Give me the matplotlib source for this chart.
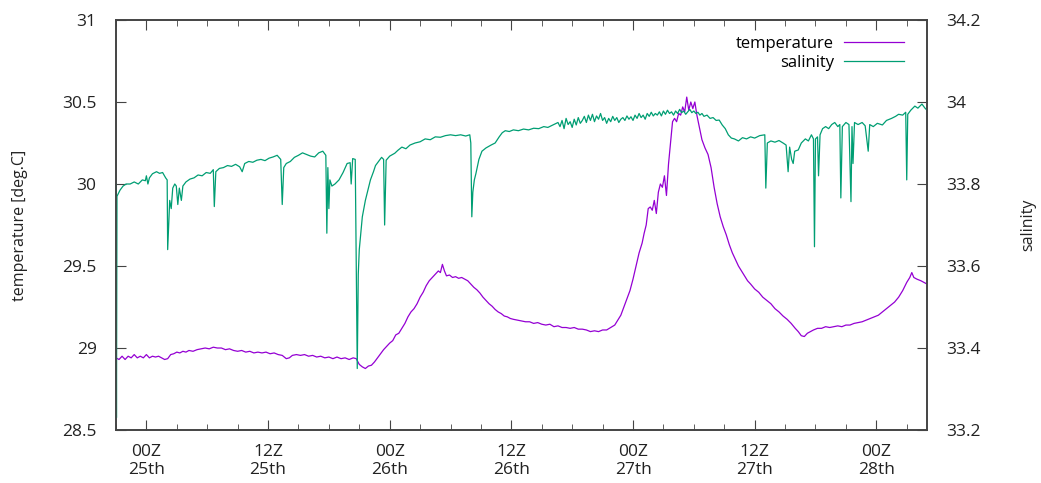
import matplotlib
matplotlib.use("Agg")
import matplotlib.pyplot as plt
from matplotlib.ticker import MultipleLocator, FixedLocator, FixedFormatter

# (hours since 00Z on the 25th, value)
temp_points = [
    (-3, 28.94), (-2.7, 28.93), (-2.4, 28.95), (-2.1, 28.93), (-1.8, 28.95), (-1.5, 28.94),
    (-1.2, 28.96), (-0.9, 28.94), (-0.6, 28.95), (-0.3, 28.94), (0, 28.96), (0.3, 28.94),
    (0.6, 28.95), (0.9, 28.945), (1.2, 28.95), (1.5, 28.94), (1.8, 28.93), (2.1, 28.935),
    (2.4, 28.96), (2.7, 28.965), (3.0, 28.975), (3.3, 28.97), (3.6, 28.98), (3.9, 28.975),
    (4.2, 28.985), (4.6, 28.98), (5.0, 28.99), (5.4, 28.995), (5.8, 29.0), (6.2, 28.995),
    (6.6, 29.005), (7.0, 29.0), (7.4, 29.0), (7.8, 28.99), (8.2, 28.995), (8.6, 28.985),
    (9.0, 28.98), (9.4, 28.985), (9.8, 28.975), (10.2, 28.98), (10.6, 28.97), (11.0, 28.975),
    (11.4, 28.97), (11.8, 28.975), (12.2, 28.965), (12.6, 28.97), (13.0, 28.96),
    (13.4, 28.955), (13.8, 28.935), (14.1, 28.94), (14.4, 28.955), (14.8, 28.96),
    (15.2, 28.955), (15.6, 28.96), (16.0, 28.95), (16.4, 28.955), (16.8, 28.945),
    (17.2, 28.95), (17.6, 28.94), (18.0, 28.945), (18.4, 28.935), (18.8, 28.945),
    (19.2, 28.935), (19.6, 28.94), (20.0, 28.93), (20.4, 28.94), (20.7, 28.935),
    (21.0, 28.9), (21.3, 28.885), (21.6, 28.875), (21.9, 28.89), (22.2, 28.895),
    (22.5, 28.915), (22.8, 28.94), (23.1, 28.965), (23.4, 28.99), (23.7, 29.01),
    (24.0, 29.03), (24.3, 29.045), (24.6, 29.08), (24.9, 29.09), (25.2, 29.12),
    (25.5, 29.15), (25.8, 29.19), (26.1, 29.22), (26.4, 29.24), (26.7, 29.27), (27.0, 29.31),
    (27.3, 29.34), (27.6, 29.38), (27.9, 29.41), (28.2, 29.43), (28.5, 29.45), (28.8, 29.47),
    (29.0, 29.46), (29.2, 29.51), (29.4, 29.47), (29.6, 29.44), (29.9, 29.445),
    (30.2, 29.43), (30.5, 29.435), (30.8, 29.425), (31.1, 29.43), (31.4, 29.42),
    (31.7, 29.41), (32.0, 29.39), (32.3, 29.37), (32.6, 29.355), (32.9, 29.335),
    (33.2, 29.31), (33.5, 29.29), (33.8, 29.27), (34.1, 29.255), (34.4, 29.235),
    (34.7, 29.22), (35.0, 29.21), (35.3, 29.195), (35.6, 29.19), (35.9, 29.18),
    (36.2, 29.175), (36.6, 29.17), (37.0, 29.165), (37.4, 29.16), (37.8, 29.16),
    (38.2, 29.15), (38.6, 29.155), (39.0, 29.145), (39.4, 29.14), (39.8, 29.145),
    (40.2, 29.13), (40.6, 29.135), (41.0, 29.125), (41.4, 29.125), (41.8, 29.12),
    (42.2, 29.125), (42.6, 29.115), (43.0, 29.115), (43.4, 29.11), (43.8, 29.1),
    (44.2, 29.105), (44.6, 29.1), (45.0, 29.11), (45.4, 29.11), (45.8, 29.125),
    (46.2, 29.14), (46.5, 29.17), (46.8, 29.2), (47.1, 29.25), (47.4, 29.3), (47.7, 29.35),
    (48.0, 29.42), (48.3, 29.5), (48.6, 29.58), (48.9, 29.64), (49.1, 29.7), (49.3, 29.75),
    (49.5, 29.85), (49.7, 29.86), (49.9, 29.84), (50.1, 29.9), (50.3, 29.82), (50.5, 29.95),
    (50.7, 30.0), (50.9, 29.98), (51.1, 30.05), (51.3, 29.93), (51.5, 30.12), (51.7, 30.25),
    (51.9, 30.38), (52.1, 30.4), (52.3, 30.38), (52.5, 30.43), (52.7, 30.42), (52.9, 30.47),
    (53.1, 30.44), (53.3, 30.53), (53.5, 30.45), (53.7, 30.5), (53.9, 30.46), (54.1, 30.5),
    (54.3, 30.42), (54.5, 30.36), (54.8, 30.27), (55.1, 30.22), (55.4, 30.18), (55.7, 30.1),
    (56.0, 29.98), (56.3, 29.88), (56.6, 29.8), (56.9, 29.74), (57.2, 29.69), (57.5, 29.63),
    (57.8, 29.58), (58.1, 29.54), (58.4, 29.5), (58.7, 29.47), (59.0, 29.44), (59.3, 29.41),
    (59.6, 29.39), (60.0, 29.36), (60.4, 29.34), (60.8, 29.31), (61.2, 29.29), (61.6, 29.27),
    (62.0, 29.24), (62.4, 29.22), (62.8, 29.195), (63.2, 29.175), (63.6, 29.15),
    (64.0, 29.12), (64.3, 29.1), (64.6, 29.075), (64.9, 29.07), (65.2, 29.09), (65.5, 29.1),
    (65.8, 29.11), (66.2, 29.12), (66.6, 29.12), (67.0, 29.13), (67.4, 29.125),
    (67.8, 29.13), (68.2, 29.135), (68.6, 29.13), (69.0, 29.14), (69.4, 29.14),
    (69.8, 29.15), (70.2, 29.155), (70.6, 29.16), (71.0, 29.17), (71.4, 29.18),
    (71.8, 29.19), (72.2, 29.2), (72.6, 29.22), (73.0, 29.24), (73.4, 29.26), (73.8, 29.28),
    (74.2, 29.31), (74.6, 29.35), (75.0, 29.4), (75.3, 29.43), (75.5, 29.46), (75.7, 29.43),
    (76.0, 29.42), (76.4, 29.41), (76.7, 29.4), (77.0, 29.39),
]

sal_points = [
    (-3.0, 33.80), (-2.95, 33.23), (-2.9, 33.77), (-2.6, 33.785), (-2.3, 33.795),
    (-2.0, 33.80), (-1.6, 33.80), (-1.2, 33.805), (-0.8, 33.80), (-0.4, 33.81),
    (-0.1, 33.808), (0, 33.82), (0.15, 33.80), (0.3, 33.815), (0.6, 33.825), (1.0, 33.83),
    (1.3, 33.826), (1.6, 33.828), (1.9, 33.815), (2.05, 33.81), (2.1, 33.64), (2.2, 33.70),
    (2.3, 33.76), (2.45, 33.74), (2.6, 33.79), (2.8, 33.80), (2.95, 33.795), (3.1, 33.75),
    (3.25, 33.79), (3.45, 33.76), (3.6, 33.795), (3.9, 33.805), (4.3, 33.812),
    (4.7, 33.815), (5.1, 33.822), (5.5, 33.82), (5.9, 33.828), (6.3, 33.826), (6.6, 33.835),
    (6.7, 33.745), (6.85, 33.83), (7.2, 33.838), (7.6, 33.84), (8.0, 33.845), (8.4, 33.843),
    (8.8, 33.848), (9.2, 33.842), (9.45, 33.83), (9.7, 33.85), (10.1, 33.855),
    (10.5, 33.853), (10.9, 33.858), (11.3, 33.86), (11.7, 33.857), (12.1, 33.863),
    (12.5, 33.866), (12.9, 33.87), (13.25, 33.86), (13.4, 33.75), (13.55, 33.84),
    (13.8, 33.85), (14.2, 33.855), (14.6, 33.865), (15.0, 33.87), (15.4, 33.876),
    (15.8, 33.872), (16.2, 33.868), (16.6, 33.866), (17.0, 33.876), (17.4, 33.88),
    (17.7, 33.87), (17.8, 33.68), (17.9, 33.84), (18.0, 33.74), (18.1, 33.81),
    (18.3, 33.795), (18.6, 33.80), (19.0, 33.81), (19.4, 33.828), (19.8, 33.85),
    (20.1, 33.852), (20.2, 33.80), (20.35, 33.862), (20.6, 33.86), (20.8, 33.35),
    (20.9, 33.58), (21.0, 33.64), (21.3, 33.72), (21.6, 33.76), (21.9, 33.79), (22.1, 33.81),
    (22.4, 33.83), (22.6, 33.845), (22.9, 33.855), (23.2, 33.865), (23.4, 33.86),
    (23.5, 33.70), (23.65, 33.858), (24.0, 33.868), (24.5, 33.875), (24.8, 33.882),
    (25.2, 33.89), (25.6, 33.886), (26.0, 33.895), (26.5, 33.90), (27.0, 33.903),
    (27.5, 33.91), (28.0, 33.908), (28.5, 33.915), (29.0, 33.914), (29.5, 33.918),
    (30.0, 33.92), (30.5, 33.918), (31.0, 33.92), (31.5, 33.917), (31.9, 33.92),
    (32.0, 33.90), (32.1, 33.72), (32.2, 33.78), (32.35, 33.81), (32.5, 33.825),
    (32.8, 33.86), (33.1, 33.88), (33.5, 33.888), (34.0, 33.895), (34.4, 33.90),
    (34.8, 33.915), (35.1, 33.925), (35.4, 33.93), (35.8, 33.928), (36.2, 33.932),
    (36.7, 33.93), (37.2, 33.934), (37.7, 33.932), (38.2, 33.936), (38.7, 33.935),
    (39.2, 33.94), (39.6, 33.938), (40.1, 33.944),
    (40.6, 33.95), (40.8, 33.94), (41.0, 33.955), (41.2, 33.935), (41.4, 33.96),
    (41.6, 33.945), (41.8, 33.952), (42.0, 33.938), (42.2, 33.958), (42.4, 33.944),
    (42.6, 33.962), (42.8, 33.948), (43.0, 33.955), (43.2, 33.965), (43.4, 33.95),
    (43.6, 33.968), (43.8, 33.955), (44.0, 33.97), (44.2, 33.952), (44.4, 33.966),
    (44.6, 33.958), (44.8, 33.972), (45.0, 33.955), (45.2, 33.962), (45.4, 33.948),
    (45.6, 33.96), (45.8, 33.952), (46.0, 33.965), (46.2, 33.955), (46.4, 33.962),
    (46.6, 33.95), (46.8, 33.958), (47.0, 33.962), (47.2, 33.955), (47.4, 33.966),
    (47.6, 33.958), (47.8, 33.964), (48.0, 33.955), (48.2, 33.968), (48.4, 33.96),
    (48.6, 33.972), (48.8, 33.962), (49.0, 33.968), (49.2, 33.958), (49.4, 33.972),
    (49.6, 33.965), (49.8, 33.975), (50.0, 33.966), (50.2, 33.972), (50.4, 33.968),
    (50.6, 33.976), (50.8, 33.966), (51.0, 33.978), (51.2, 33.97), (51.4, 33.98),
    (51.6, 33.972), (51.8, 33.976), (52.0, 33.968), (52.2, 33.978), (52.4, 33.972),
    (52.6, 33.982), (52.8, 33.974), (53.0, 33.978), (53.2, 33.97), (53.4, 33.976),
    (53.6, 33.982), (53.8, 33.974), (54.0, 33.978), (54.2, 33.972), (54.4, 33.975),
    (54.6, 33.968), (54.8, 33.972), (55.0, 33.965), (55.3, 33.968), (55.6, 33.96),
    (55.9, 33.962), (56.2, 33.955), (56.5, 33.956),
    (56.8, 33.944), (57.1, 33.935), (57.4, 33.92), (57.7, 33.912), (58.0, 33.91),
    (58.4, 33.905), (58.8, 33.913), (59.2, 33.91), (59.6, 33.915), (60.0, 33.912),
    (60.5, 33.918), (61.0, 33.92), (61.1, 33.79), (61.25, 33.90), (61.6, 33.905),
    (62.0, 33.902), (62.4, 33.906), (62.8, 33.90), (63.1, 33.895), (63.3, 33.83),
    (63.45, 33.89), (63.65, 33.86), (63.8, 33.85), (63.95, 33.88), (64.3, 33.883),
    (64.6, 33.90), (65.0, 33.91), (65.3, 33.905), (65.6, 33.92), (65.8, 33.91),
    (65.9, 33.647), (66.0, 33.91), (66.2, 33.915), (66.3, 33.82), (66.45, 33.92),
    (66.7, 33.935), (67.0, 33.94), (67.3, 33.935), (67.6, 33.945), (67.9, 33.95),
    (68.2, 33.94), (68.4, 33.945), (68.5, 33.766), (68.65, 33.94), (69.0, 33.95),
    (69.3, 33.945), (69.5, 33.757), (69.6, 33.94), (69.7, 33.85), (69.85, 33.95),
    (70.2, 33.945), (70.6, 33.95), (70.9, 33.942), (71.2, 33.88), (71.35, 33.945),
    (71.7, 33.94), (72.1, 33.948), (72.6, 33.944), (73.0, 33.955), (73.5, 33.96),
    (73.9, 33.965), (74.2, 33.97), (74.6, 33.968), (74.9, 33.975), (75.0, 33.81),
    (75.1, 33.97), (75.4, 33.98), (75.8, 33.99), (76.1, 33.985), (76.5, 33.995),
    (76.8, 33.985), (77, 33.98),
]

tick_hours = [0, 12, 24, 36, 48, 60, 72]
tick_labels = ["00Z\n25th", "12Z\n25th", "00Z\n26th", "12Z\n26th",
               "00Z\n27th", "12Z\n27th", "00Z\n28th"]

temp_hours = [p[0] for p in temp_points]
temperature = [p[1] for p in temp_points]
sal_hours = [p[0] for p in sal_points]
salinity = [p[1] for p in sal_points]

plt.rcParams['font.family'] = ['Open Sans', 'DejaVu Sans']
axis_col = '#444444'

fig = plt.figure(figsize=(10.41, 4.83), dpi=100)
ax = fig.add_axes([0.1114, 0.1097, 0.7791, 0.8489])
ax2 = ax.twinx()

l1, = ax.plot(temp_hours, temperature, color='#9400d3', lw=0.9, label='temperature')
l2, = ax2.plot(sal_hours, salinity, color='#009e73', lw=0.9, label='salinity')

ax.set_xlim(-3, 77)
ax.set_ylim(28.5, 31)
ax2.set_ylim(33.2, 34.2)

ax.xaxis.set_major_locator(FixedLocator(tick_hours))
ax.xaxis.set_major_formatter(FixedFormatter(tick_labels))
ax.xaxis.set_minor_locator(MultipleLocator(3))
ax.set_yticks([28.5, 29, 29.5, 30, 30.5, 31])
ax.set_yticklabels(['28.5', '29', '29.5', '30', '30.5', '31'])
ax2.set_yticks([33.2, 33.4, 33.6, 33.8, 34, 34.2])
ax2.set_yticklabels(['33.2', '33.4', '33.6', '33.8', '34', '34.2'])

ax.tick_params(axis='x', which='both', direction='in', top=True, bottom=True,
               colors=axis_col, labelcolor='#222222', labelsize=12.5, pad=10)
ax.tick_params(axis='x', which='major', length=7)
ax.tick_params(axis='x', which='minor', length=4)
ax.tick_params(axis='y', direction='in', length=7, colors=axis_col,
               labelcolor='#222222', labelsize=12.5, pad=14)
ax2.tick_params(axis='y', direction='in', length=7, colors=axis_col,
                labelcolor='#222222', labelsize=12.5, pad=14)

for a in (ax, ax2):
    for s in a.spines.values():
        s.set_color(axis_col)
        s.set_linewidth(1.2)

ax.set_ylabel('temperature [deg.C]', fontsize=11.5, color='#222222')
ax.yaxis.set_label_coords(-0.1087, 0.5)
ax2.set_ylabel('salinity', fontsize=11.5, color='#222222', rotation=90)
ax2.yaxis.set_label_coords(1.1147, 0.5)

fig.legend([l1, l2], ['temperature', 'salinity'], loc='upper right',
           bbox_to_anchor=(0.883, 0.957), frameon=False, markerfirst=False,
           fontsize=12, handlelength=3.6, handletextpad=0.6, labelspacing=0.2)

fig.savefig('out.png', dpi=100)
